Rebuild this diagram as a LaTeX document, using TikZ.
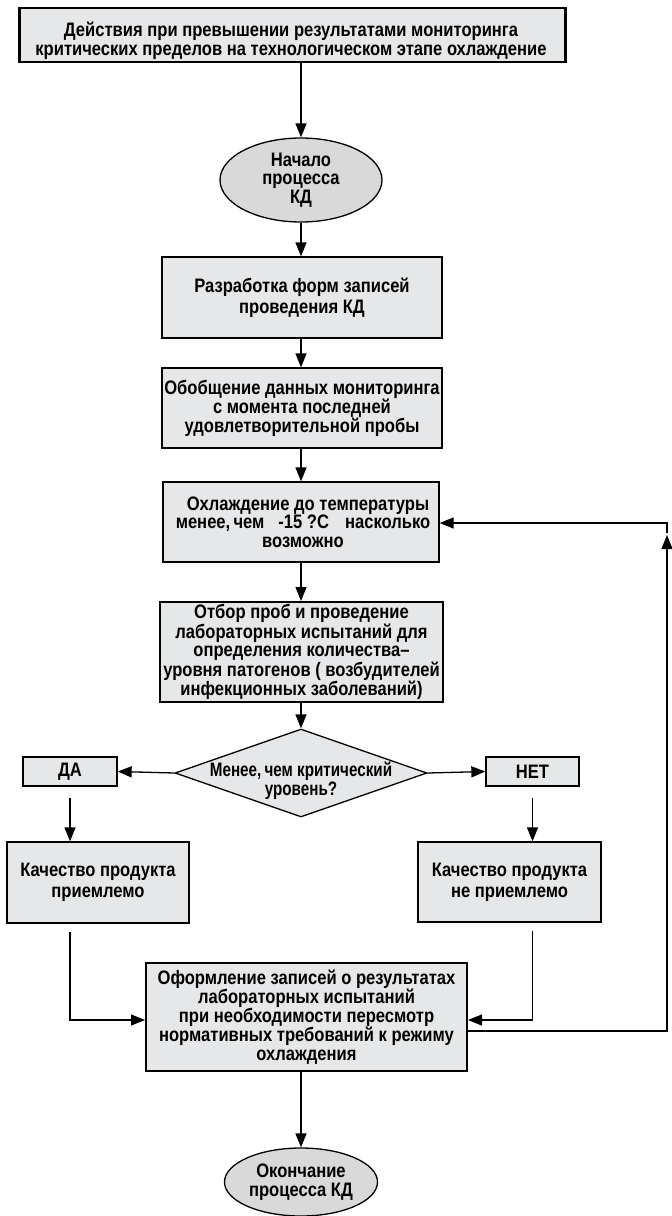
\documentclass[tikz,border=0pt]{standalone}
\usepackage{fontspec}
\setmainfont{Liberation Sans}[FakeStretch=0.85]
\newfontfamily\narrowfont{Liberation Sans}[FakeStretch=0.78]
\usetikzlibrary{arrows.meta,calc,shapes.geometric}
\definecolor{boxgray}{HTML}{E6E7E8}
\definecolor{ellgray}{HTML}{D9D9DA}
\newcommand\flowfont{\fontsize{19.5}{18.5}\selectfont\bfseries}
\newcommand\widefont{\fontsize{19.5}{21}\selectfont\bfseries}
\newcommand\decfont{\narrowfont\fontsize{19.5}{19}\selectfont\bfseries}
\tikzset{
  box/.style={draw, line width=1.3pt, fill=boxgray, align=center, inner sep=0pt, font=\flowfont},
  ell/.style={ellipse, draw, line width=1.3pt, fill=ellgray, align=center, inner sep=0pt, font=\flowfont},
  txt/.style={align=center, inner sep=0pt, font=\flowfont},
  arr/.style={line width=1.3pt, -{Triangle[length=14pt,width=11pt]}},
  plain/.style={line width=1.3pt}
}
\begin{document}
\begin{tikzpicture}[x=1pt,y=-1pt]
\useasboundingbox (0,0) rectangle (672,1216);
% top box
\node[box, minimum width=545, minimum height=54] (top) at (292.5,35) {};
\draw[line width=3pt] (top.north west) -- (top.south west);
\draw[line width=3pt] (top.north east) -- (top.south east);
\node[txt] (toptxt) at (291,41) {Действия при превышении результатами мониторинга\\критических пределов на технологическом этапе охлаждение};
% start ellipse
\node[ell, minimum width=162, minimum height=84] (start) at (301,180) {Начало\\процесса\\КД};
% boxes
\node[box, font=\widefont, minimum width=280, minimum height=81] (b2) at (302,297.5) {Разработка форм записей\\проведения КД};
\node[box, minimum width=280, minimum height=80] (b3) at (302,408) {Обобщение данных мониторинга\\с момента последней\\удовлетворительной пробы};
\node[box, minimum width=276, minimum height=80] (b4) at (301,522) {};
\node[txt] (b4txt) at (303,522) {\hspace*{10pt}Охлаждение до температуры\\менее,\,чем\hspace{14pt}-15 ?С\hspace{16pt}насколько\\возможно};
\node[box, line width=2pt, minimum width=283, minimum height=100] (b5) at (301.5,652) {Отбор проб и проведение\\лабораторных испытаний для\\определения количества–\\уровня патогенов ( возбудителей\\инфекционных заболеваний)};
% decision
\node[diamond, draw, line width=1.3pt, fill=boxgray, inner sep=0pt, minimum width=252, minimum height=88] (dec) at (301,773) {};
\node[align=center, inner sep=0pt, font=\decfont] (dectxt) at (301,781) {Менее,\,чем критический\\уровень?};
\node[box, minimum width=94, minimum height=29] (da) at (70,771.5) {ДА};
\node[box, minimum width=93, minimum height=29] (net) at (532.5,771.5) {НЕТ};
\node[box, font=\widefont, minimum width=182, minimum height=81] (q1) at (98,882.5) {Качество продукта\\приемлемо};
\node[box, font=\widefont, minimum width=183, minimum height=80] (q2) at (509.5,882) {Качество продукта\\не приемлемо};
\node[box, line width=2pt, minimum width=321, minimum height=108] (b6) at (306.5,1017) {Оформление записей о результатах\\лабораторных испытаний\\при необходимости пересмотр\\нормативных требований к режиму\\охлаждения};
\node[ell, minimum width=153, minimum height=68] (fin) at (301,1182) {Окончание\\процесса КД};
% connectors
\draw[arr] (top.south -| start.north) -- (start.north);
\draw[arr] (start.south) -- (start.south |- b2.north);
\draw[arr] (b2.south -| b4.north) -- (b3.north -| b4.north);
\draw[arr] (b3.south -| b4.north) -- (b4.north);
\draw[arr] (b4.south) -- (b4.south |- b5.north);
\draw[arr] (b5.south -| dec.north) -- (dec.north);
\draw[arr] (dec.west) -- (da.east);
\draw[arr] (dec.east) -- (net.west);
\draw[arr] ($(da.south)+(0,11)$) -- (da.south |- q1.north);
\draw[arr] ($(net.south)+(0,11)$) -- (net.south |- q2.north);
\draw[arr] ($(da.south |- q1.south)+(0,8)$) |- ($(b6.west)+(0,3)$);
\draw[arr] ($(net.south |- q2.south)+(0,8)$) |- ($(b6.east)+(0,3)$);
\draw[arr] (b6.south -| fin.north) -- (fin.north);
\coordinate (loopc) at (667,523);
\draw[arr] ($(b6.east)+(0,14)$) -| ($(loopc)+(0,12)$);
\draw[arr] ($(loopc)+(0,10)$) -- (loopc) -- (loopc -| b4.east);
\end{tikzpicture}
\end{document}
